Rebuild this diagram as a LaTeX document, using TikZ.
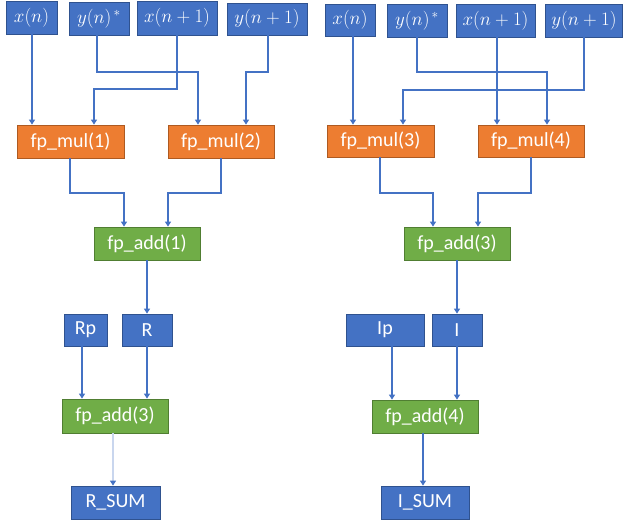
\documentclass[tikz,border=0pt]{standalone}
\usepackage{fix-cm}
\usepackage{fontspec}
\setmainfont{Carlito}
\usetikzlibrary{arrows.meta}
\definecolor{bfill}{HTML}{4472C4}
\definecolor{bdraw}{HTML}{2F528F}
\definecolor{ofill}{HTML}{ED7D31}
\definecolor{odraw}{HTML}{AE5A21}
\definecolor{gfill}{HTML}{70AD47}
\definecolor{gdraw}{HTML}{507E32}
\definecolor{linec}{HTML}{4472C4}
\definecolor{faintc}{HTML}{C9D6EE}
\tikzset{
  bx/.style={rectangle, inner sep=0pt, line width=0.8pt, text=white, font=\fontsize{20}{22}\selectfont},
  bluebox/.style={bx, fill=bfill, draw=bdraw},
  mathbox/.style={bx, fill=bfill, draw=bdraw, font=\fontsize{19}{21}\selectfont},
  orangebox/.style={bx, fill=ofill, draw=odraw},
  greenbox/.style={bx, fill=gfill, draw=gdraw},
  arr/.style={draw=linec, line width=1.2pt, -{Triangle[width=6pt,length=5pt]}},
  faintarr/.style={draw=faintc, line width=1.2pt, -{Triangle[width=6pt,length=5pt,color=linec]}}
}
\begin{document}
\begin{tikzpicture}[x=1pt,y=-1pt]
\useasboundingbox (0,0) rectangle (623,524);
% top row left
\node[mathbox, minimum width=51pt, minimum height=33pt] (xn1) at (31.5,17.5) {$x(n)$};
\node[mathbox, minimum width=60pt, minimum height=33pt] (ys1) at (99,18.5) {$y(n)^{\,*}$};
\node[mathbox, minimum width=80pt, minimum height=34pt] (xp1) at (177,18) {$x(n+1)$};
\node[mathbox, minimum width=80pt, minimum height=32pt] (yp1) at (267,19) {$y(n+1)$};
% top row right
\node[mathbox, minimum width=50pt, minimum height=32pt] (xn2) at (350,20) {$x(n)$};
\node[mathbox, minimum width=60pt, minimum height=33pt] (ys2) at (417,20.5) {$y(n)^{\,*}$};
\node[mathbox, minimum width=79pt, minimum height=33pt] (xp2) at (495.5,20.5) {$x(n+1)$};
\node[mathbox, minimum width=77pt, minimum height=33pt] (yp2) at (584,20.5) {$y(n+1)$};
% multipliers
\node[orangebox, minimum width=107pt, minimum height=33pt] (mul1) at (70.5,141.5) {fp\_mul(1)};
\node[orangebox, minimum width=106pt, minimum height=33pt] (mul2) at (221,141.5) {fp\_mul(2)};
\node[orangebox, minimum width=107pt, minimum height=32pt] (mul3) at (380.5,141) {fp\_mul(3)};
\node[orangebox, minimum width=106pt, minimum height=32pt] (mul4) at (531,141) {fp\_mul(4)};
% adders
\node[greenbox, minimum width=106pt, minimum height=33pt] (add1) at (147,243.5) {fp\_add(1)};
\node[greenbox, minimum width=106pt, minimum height=33pt] (add3r) at (457,243.5) {fp\_add(3)};
% registers
\node[bluebox, minimum width=43pt, minimum height=32pt] (Rp) at (85.5,330) {Rp};
\node[bluebox, minimum width=50pt, minimum height=32pt] (R) at (147,330) {R};
\node[bluebox, minimum width=78pt, minimum height=32pt] (Ip) at (385,330) {Ip};
\node[bluebox, minimum width=50pt, minimum height=32pt] (I) at (457,330) {I};
% final adders
\node[greenbox, minimum width=106pt, minimum height=34pt] (add3l) at (115,416) {fp\_add(3)};
\node[greenbox, minimum width=106pt, minimum height=33pt] (add4) at (425,416.5) {fp\_add(4)};
% sums
\node[bluebox, minimum width=89pt, minimum height=33pt] (RSUM) at (115.5,502.5) {R\_SUM};
\node[bluebox, minimum width=88pt, minimum height=33pt] (ISUM) at (425,502.5) {I\_SUM};

% left connectors top
\draw[arr] ([xshift=0.5pt]xn1.south) -- ([xshift=0.5pt]xn1.south |- mul1.north);
\draw[arr] ([xshift=-2pt]ys1.south) -- ([xshift=-2pt]ys1.south |- 0,72) -| ([xshift=-23pt]mul2.north);
\draw[arr] (xp1.south) -- (xp1.south |- 0,89) -| ([xshift=23.5pt]mul1.north);
\draw[arr] ([xshift=1pt]yp1.south) -- ([xshift=1pt]yp1.south |- 0,72) -| ([xshift=25pt]mul2.north);
% right connectors top
\draw[arr] ([xshift=3pt]xn2.south) -- ([xshift=3pt]xn2.south |- mul3.north);
\draw[arr] (ys2.south) -- (ys2.south |- 0,72) -| ([xshift=16pt]mul4.north);
\draw[arr] ([xshift=1.5pt]xp2.south) -- ([xshift=1.5pt]xp2.south |- mul4.north);
\draw[arr] (yp2.south) -- (yp2.south |- 0,90) -| ([xshift=22.5pt]mul3.north);
% multipliers to adders
\draw[arr] ([xshift=-0.5pt]mul1.south) -- ([xshift=-0.5pt]mul1.south |- 0,193) -| ([xshift=-23pt]add1.north);
\draw[arr] (mul2.south) -- (mul2.south |- 0,193) -| ([xshift=21pt]add1.north);
\draw[arr] ([xshift=-0.5pt]mul3.south) -- ([xshift=-0.5pt]mul3.south |- 0,193) -| ([xshift=-24pt]add3r.north);
\draw[arr] (mul4.south) -- (mul4.south |- 0,193) -| ([xshift=21pt]add3r.north);
% adders to registers
\draw[arr] (add1.south) -- (R.north);
\draw[arr] (add3r.south) -- (I.north);
% registers to final adders
\draw[arr] ([xshift=-3.5pt]Rp.south) -- ([xshift=-3.5pt]Rp.south |- add3l.north);
\draw[arr] (R.south) -- (R.south |- add3l.north);
\draw[arr] ([xshift=7pt]Ip.south) -- ([xshift=7pt]Ip.south |- add4.north);
\draw[arr] (I.south) -- (I.south |- add4.north);
% final adders to sums
\draw[faintarr] ([xshift=-2pt]add3l.south) -- ([xshift=-2pt]add3l.south |- RSUM.north);
\draw[arr] ([xshift=-2pt]add4.south) -- ([xshift=-2pt]add4.south |- ISUM.north);
\end{tikzpicture}
\end{document}
